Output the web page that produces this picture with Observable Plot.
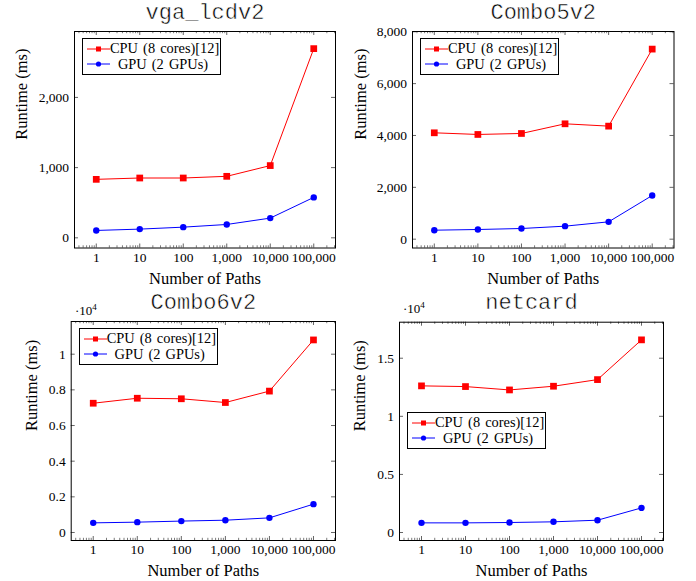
<!DOCTYPE html>
<html>
<head>
<meta charset="utf-8">
<script src="https://cdn.jsdelivr.net/npm/d3@7"></script>
<script src="https://cdn.jsdelivr.net/npm/@observablehq/plot@0.6"></script>
<style>
  body { margin: 0; background: #fff; }
  #wrap { position: relative; width: 696px; height: 581px; overflow: hidden; }
  .panel { position: absolute; }
  .legend { position: absolute; box-sizing: border-box; width: 139px; height: 37px;
            border: 1px solid #000; background: #fff;
            font-family: "Liberation Serif", serif; font-size: 14.4px; color: #000; }
  .legend .row { position: absolute; left: 0; width: 100%; height: 16px; display: flex; align-items: center; }
  .legend .row svg { flex: none; margin-left: 4px; }
  .legend .row span { flex: 1; text-align: center; white-space: nowrap; padding-right: 4px; word-spacing: 1.5px; }
</style>
</head>
<body>
<div id="wrap"></div>
<script>
// ---- data ----
const paths = [1, 10, 100, 1000, 10000, 100000];
const xTickLabels = ["1", "10", "100", "1,000", "10,000", "100,000"];
const titles = ["vga_lcdv2", "Combo5v2", "Combo6v2", "netcard"];
const seriesNames = ["CPU (8 cores)[12]", "GPU (2 GPUs)"];

const cpu_vga = [833, 852, 852, 876, 1029, 2695];
const gpu_vga = [105, 124, 152, 190, 281, 576];
const cpu_combo5 = [4103, 4039, 4077, 4450, 4360, 7331];
const gpu_combo5 = [347, 373, 412, 502, 669, 1685];
const cpu_combo6 = [7250, 7530, 7500, 7290, 7930, 10800];
const gpu_combo6 = [540, 580, 640, 690, 820, 1590];
const cpu_netcard = [12620, 12560, 12270, 12590, 13160, 16580];
const gpu_netcard = [830, 830, 860, 920, 1060, 2120];

const yTicks_vga = [0, 1000, 2000];
const yLabels_vga = ["0", "1,000", "2,000"];
const yTicks_combo5 = [0, 2000, 4000, 6000, 8000];
const yLabels_combo5 = ["0", "2,000", "4,000", "6,000", "8,000"];
const yTicks_combo6 = [0, 2000, 4000, 6000, 8000, 10000];
const yLabels_combo6 = ["0", "0.2", "0.4", "0.6", "0.8", "1"];
const yTicks_netcard = [0, 5000, 10000, 15000];
const yLabels_netcard = ["0", "0.5", "1", "1.5"];

// minor log ticks
const minorTicks = [];
for (let k = -1; k <= 5; k++) for (let m = 2; m <= 9; m++) minorTicks.push(m * 10 ** k);

// ---- layout ----
const panels = [
  {title: titles[0], cpu: cpu_vga, gpu: gpu_vga, yTicks: yTicks_vga, yLabels: yLabels_vga,
   left: 0, top: 0, width: 348, height: 290, mL: 74, mR: 13, mT: 31, mB: 42.5,
   yDomain: [-145, 2939], titleDy: -19.7, yLabelDx: -52.5, legend: "nw", mult: false},
  {title: titles[1], cpu: cpu_combo5, gpu: gpu_combo5, yTicks: yTicks_combo5, yLabels: yLabels_combo5,
   left: 348, top: 0, width: 348, height: 290, mL: 64, mR: 22.5, mT: 31, mB: 42.5,
   yDomain: [-340, 8010], titleDy: -19.7, yLabelDx: -52, legend: "nw", mult: false},
  {title: titles[2], cpu: cpu_combo6, gpu: gpu_combo6, yTicks: yTicks_combo6, yLabels: yLabels_combo6,
   left: 0, top: 290, width: 348, height: 291, mL: 70.7, mR: 13, mT: 31, mB: 41,
   yDomain: [-449, 11834], titleDy: -19.2, yLabelDx: -39, legend: "nw", mult: true, multX: 75, multY: 25},
  {title: titles[3], cpu: cpu_netcard, gpu: gpu_netcard, yTicks: yTicks_netcard, yLabels: yLabels_netcard,
   left: 348, top: 290, width: 348, height: 291, mL: 51, mR: 33, mT: 31.7, mB: 41,
   yDomain: [-688, 18100], titleDy: -19.9, yLabelDx: -39.5, legend: "w", mult: true, multX: 55, multY: 23}
];

const wrap = document.getElementById("wrap");
const serif = "Liberation Serif";
const tickStroke = "#222";

for (const p of panels) {
  const innerH = p.height - p.mT - p.mB;
  const innerW = p.width - p.mL - p.mR;
  const cpuData = paths.map((x, i) => ({x, y: p.cpu[i]}));
  const gpuData = paths.map((x, i) => ({x, y: p.gpu[i]}));
  const inDomain = d => d > 10 ** -0.5 && d < 10 ** 5.5;
  const chart = Plot.plot({
    width: p.width, height: p.height,
    marginLeft: p.mL, marginRight: p.mR, marginTop: p.mT, marginBottom: p.mB,
    style: {fontFamily: serif, fontSize: "13.5px", background: "transparent", overflow: "visible", color: "#000"},
    x: {type: "log", domain: [10 ** -0.5, 10 ** 5.5]},
    y: {domain: p.yDomain},
    marks: [
      // tick marks (inward)
      Plot.tickX(paths, {x: d => d, insetTop: innerH - 4, stroke: tickStroke, strokeWidth: 0.7}),
      Plot.tickX(paths, {x: d => d, insetBottom: innerH - 4, stroke: tickStroke, strokeWidth: 0.7}),
      Plot.tickX(minorTicks.filter(inDomain), {x: d => d, insetTop: innerH - 2.2, stroke: tickStroke, strokeWidth: 0.6}),
      Plot.tickX(minorTicks.filter(inDomain), {x: d => d, insetBottom: innerH - 2.2, stroke: tickStroke, strokeWidth: 0.6}),
      Plot.tickY(p.yTicks, {y: d => d, insetRight: innerW - 4, stroke: tickStroke, strokeWidth: 0.7}),
      Plot.tickY(p.yTicks, {y: d => d, insetLeft: innerW - 4, stroke: tickStroke, strokeWidth: 0.7}),
      Plot.axisX(paths, {anchor: "bottom", tickSize: 0, tickPadding: 4.2, label: null,
        tickFormat: d => xTickLabels[paths.indexOf(d)], fontSize: 13.5, fontFamily: serif}),
      Plot.axisY(p.yTicks, {anchor: "left", tickSize: 0, tickPadding: 5.5, label: null,
        tickFormat: d => p.yLabels[p.yTicks.indexOf(d)], fontSize: 13.5, fontFamily: serif}),
      Plot.frame({stroke: "#000", strokeWidth: 1}),
      Plot.line(gpuData, {x: "x", y: "y", stroke: "#0000ff", strokeWidth: 1}),
      Plot.dot(gpuData, {x: "x", y: "y", fill: "#0000ff", r: 3.2, symbol: "circle"}),
      Plot.line(cpuData, {x: "x", y: "y", stroke: "#ff0000", strokeWidth: 1}),
      Plot.dot(cpuData, {x: "x", y: "y", fill: "#ff0000", r: 3.8, symbol: "square"}),
      Plot.text([p.title], {frameAnchor: "top", lineAnchor: "middle", dy: p.titleDy, text: d => d,
        fontFamily: "Liberation Mono", fontSize: 22, fill: "#000", stroke: "#fff", strokeWidth: 0.5, paintOrder: "normal"}),
      Plot.text(["Number of Paths"], {frameAnchor: "bottom", lineAnchor: "middle", dy: 30.7, text: d => d,
        fontFamily: serif, fontSize: 16.5, fill: "#000"}),
      Plot.text(["Runtime (ms)"], {frameAnchor: "left", lineAnchor: "middle", dx: p.yLabelDx, rotate: -90, text: d => d,
        fontFamily: serif, fontSize: 16.5, fill: "#000"})
    ]
  });
  chart.classList.add("panel");
  chart.style.left = p.left + "px";
  chart.style.top = p.top + "px";
  wrap.appendChild(chart);

  if (p.mult) {
    const t = d3.select(chart).append("text")
      .attr("x", p.multX).attr("y", p.multY).attr("text-anchor", "start")
      .attr("font-family", serif).attr("font-size", 13).attr("fill", "#000");
    t.append("tspan").text("·10");
    t.append("tspan").attr("font-size", 9).attr("dy", -5).text("4");
  }

  // legend
  const box = document.createElement("div");
  box.className = "legend";
  const boxW = 139, boxH = 37;
  const bl = p.left + p.mL + 8;
  const bt = p.legend === "nw" ? p.top + p.mT + 7 : p.top + p.mT + (innerH - boxH) / 2;
  box.style.left = bl + "px";
  box.style.top = bt + "px";
  const colors = ["#ff0000", "#0000ff"];
  const rowY = [10.5, 26];
  seriesNames.forEach((name, i) => {
    const row = document.createElement("div");
    row.className = "row";
    row.style.top = (rowY[i] - 8 - 1) + "px";
    const marker = i === 0
      ? `<rect x="9" y="5.5" width="5" height="5" fill="${colors[i]}"/>`
      : `<circle cx="11.5" cy="8" r="2.6" fill="${colors[i]}"/>`;
    row.innerHTML = `<svg width="23" height="16"><line x1="0" x2="23" y1="8" y2="8" stroke="${colors[i]}" stroke-width="1"/>${marker}</svg><span>${name}</span>`;
    box.appendChild(row);
  });
  wrap.appendChild(box);
}
</script>
</body>
</html>
